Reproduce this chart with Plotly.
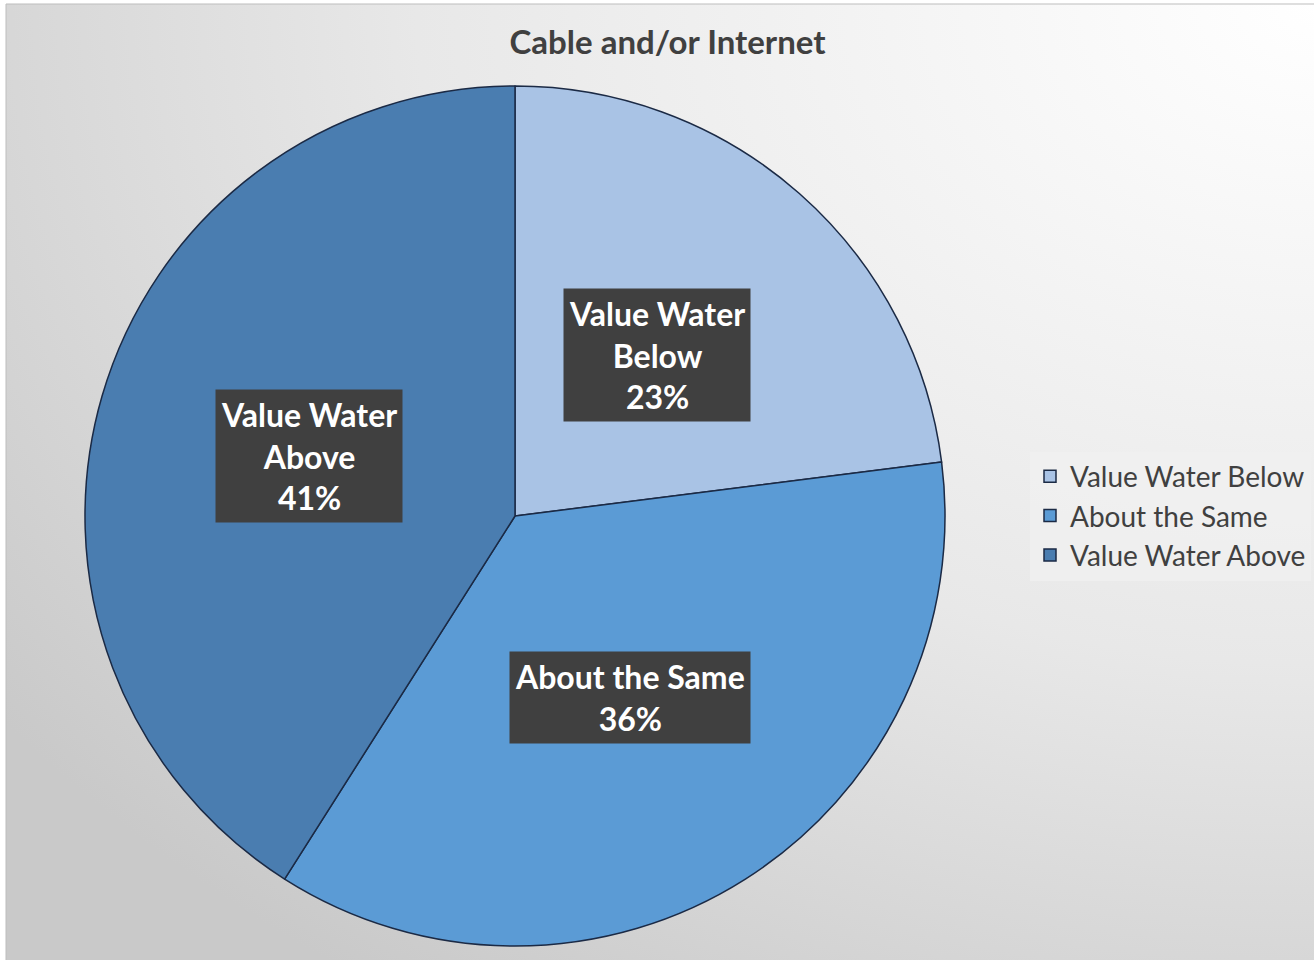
import base64, math
import plotly.graph_objects as go

labels = ["Value Water Below", "About the Same", "Value Water Above"]
box_labels = ["Value Water<br>Below", "About the Same", "Value Water<br>Above"]
values = [23, 36, 41]
colors = ["#A9C3E5", "#5B9BD5", "#4A7DB0"]

W, H = 1314, 960
cx, cy, R = 515, 516, 430  # pie centre/radius in px

svg = f'''<svg xmlns="http://www.w3.org/2000/svg" width="{W}" height="{H}">
<defs><radialGradient id="g" cx="1" cy="0" r="1.25" gradientUnits="objectBoundingBox">
<stop offset="0" stop-color="#ffffff"/><stop offset="0.55" stop-color="#e8e8e8"/><stop offset="1" stop-color="#c9c9c9"/>
</radialGradient></defs><rect width="{W}" height="{H}" fill="url(#g)"/></svg>'''
bg = "data:image/svg+xml;base64," + base64.b64encode(svg.encode()).decode()

fig = go.Figure()
fig.add_trace(go.Pie(
    labels=labels, values=values, sort=False, direction="clockwise", rotation=0,
    marker=dict(colors=colors, line=dict(color="#1B2A45", width=1.5)),
    textinfo="none", hoverinfo="label+percent",
    domain=dict(x=[(cx - R) / W, (cx + R) / W], y=[1 - (cy + R) / H, 1 - (cy - R) / H]),
))

total = sum(values)
cum = 0
annotations = []
for lab, v in zip(box_labels, values):
    mid = (cum + v / 2) / total * 2 * math.pi
    cum += v
    px = cx + 0.5 * R * math.sin(mid)
    py = cy - 0.5 * R * math.cos(mid)
    pct = round(v / total * 100)
    annotations.append(dict(
        x=px / W, y=1 - py / H, xref="paper", yref="paper", showarrow=False,
        xanchor="center", yanchor="middle",
        text=f"<b>{lab}<br>{pct}%</b>", align="center",
        font=dict(family="Lato", size=32, color="white"),
        bgcolor="#404040", borderpad=5,
    ))

fig.update_layout(
    width=W, height=H, margin=dict(l=0, r=0, t=0, b=0),
    paper_bgcolor="white", plot_bgcolor="white",
    title=dict(text="<b>Cable and/or Internet</b>", x=0.508, xanchor="center", y=1 - 42 / H, yanchor="middle",
               font=dict(family="Lato", size=33, color="#404040")),
    legend=dict(x=1030 / W, xanchor="left", y=1 - 516 / H, yanchor="middle",
                font=dict(family="Lato", size=28, color="#404040"),
                bgcolor="rgba(240,240,240,0.85)", itemclick=False),
    annotations=annotations,
    images=[dict(source=bg, xref="paper", yref="paper", x=6 / W, y=1 - 4 / H, sizex=1, sizey=1,
                 xanchor="left", yanchor="top", sizing="stretch", layer="below")],
    shapes=[dict(type="line", xref="paper", yref="paper", x0=6 / W, x1=1, y0=1 - 4 / H, y1=1 - 4 / H,
                 line=dict(color="#bdbdbd", width=1)),
            dict(type="line", xref="paper", yref="paper", x0=6 / W, x1=6 / W, y0=0, y1=1 - 4 / H,
                 line=dict(color="#bdbdbd", width=1))],
)
fig.write_html("out.html")
